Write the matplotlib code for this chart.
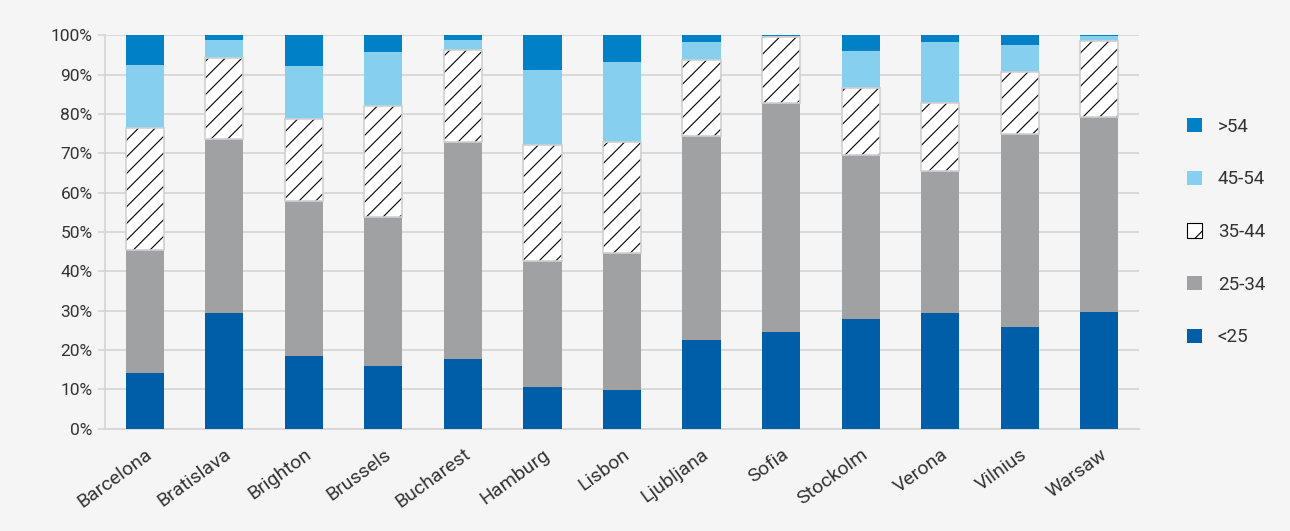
import numpy as np
import matplotlib
matplotlib.use("Agg")
import matplotlib.pyplot as plt
from matplotlib.patches import Patch

# -------------------------------
# Data (shares, %)
# -------------------------------
cities = ["Barcelona", "Bratislava", "Brighton", "Brussels", "Bucharest",
          "Hamburg", "Lisbon", "Ljubljana", "Sofia", "Stockolm",
          "Verona", "Vilnius", "Warsaw"]

under_25 = [14.2, 29.4, 18.5, 15.9, 17.7, 10.6, 9.8, 22.5, 24.7, 27.9, 29.4, 25.8, 29.7]
age_25_34 = [31.2, 44.2, 39.5, 38.0, 55.3, 31.9, 34.8, 52.0, 58.1, 41.8, 36.1, 49.2, 49.5]
age_35_44 = [31.1, 20.7, 20.6, 28.2, 23.2, 29.5, 28.2, 19.3, 16.7, 17.0, 17.3, 15.8, 19.4]
age_45_54 = [16.0, 4.5, 13.7, 13.7, 2.6, 19.2, 20.4, 4.5, 0.4, 9.3, 15.5, 6.7, 1.1]
over_54 = [7.5, 1.2, 7.7, 4.2, 1.2, 8.8, 6.8, 1.7, 0.1, 4.0, 1.7, 2.5, 0.3]

ytick_vals = list(range(0, 101, 10))

# -------------------------------
# Style
# -------------------------------
plt.rcParams["font.family"] = ["Roboto", "DejaVu Sans"]
plt.rcParams["hatch.linewidth"] = 0.8

bg = "#f5f5f5"
grid_c = "#d6d6d6"
text_c = "#333333"

fig = plt.figure(figsize=(12.9, 5.31), dpi=100, facecolor=bg)
ax = fig.add_axes([0.0814, 0.1927, 0.8016, 0.7408], facecolor=bg)

x = np.arange(len(cities))
w = 0.48
bottom = np.zeros(len(cities))

ax.bar(x, under_25, w, bottom=bottom, color="#005ea8", zorder=3)
bottom += under_25
ax.bar(x, age_25_34, w, bottom=bottom, color="#a0a1a3", zorder=3)
bottom += age_25_34
# hatched segment: black hatch, light grey outline drawn on top
ax.bar(x, age_35_44, w, bottom=bottom, color="white", edgecolor="black",
       hatch="//", linewidth=0, zorder=3)
ax.bar(x, age_35_44, w, bottom=bottom, fill=False, edgecolor="#d0d0d0",
       linewidth=1.2, zorder=4)
bottom += age_35_44
ax.bar(x, age_45_54, w, bottom=bottom, color="#87cfef", zorder=3)
bottom += age_45_54
ax.bar(x, over_54, w, bottom=bottom, color="#0080c6", zorder=3)

ax.set_xlim(-0.5, len(cities) - 0.5)
ax.set_ylim(0, 100)
ax.set_yticks(ytick_vals)
ax.set_yticklabels([f"{v}%" for v in ytick_vals], fontsize=12.5, color=text_c)
ax.set_xticks(x)
ax.set_xticklabels(cities, rotation=36, ha="right", rotation_mode="anchor",
                   fontsize=14, color=text_c)

ax.yaxis.grid(True, color=grid_c, linewidth=1.3, zorder=0)
ax.tick_params(axis="y", length=5, color=grid_c, width=1.3, pad=4)
ax.tick_params(axis="x", length=0, pad=12)
for s in ["top", "right"]:
    ax.spines[s].set_visible(False)
ax.spines["left"].set_color(grid_c)
ax.spines["left"].set_linewidth(1.3)
ax.spines["bottom"].set_color(grid_c)
ax.spines["bottom"].set_linewidth(1.3)

# legend, top-down order as in the original
handles = [
    Patch(facecolor="#0080c6", label=">54"),
    Patch(facecolor="#87cfef", label="45-54"),
    Patch(facecolor="white", edgecolor="black", hatch="/", linewidth=0.8, label="35-44"),
    Patch(facecolor="#a0a1a3", label="25-34"),
    Patch(facecolor="#005ea8", label="<25"),
]
leg = fig.legend(handles=handles, loc="center left",
                 bbox_to_anchor=(0.907, 0.563), frameon=False,
                 fontsize=13.5, labelspacing=1.85, handlelength=0.8,
                 handleheight=0.8, handletextpad=0.85)
for t in leg.get_texts():
    t.set_color(text_c)

plt.savefig("out.png", dpi=100, facecolor=bg)
